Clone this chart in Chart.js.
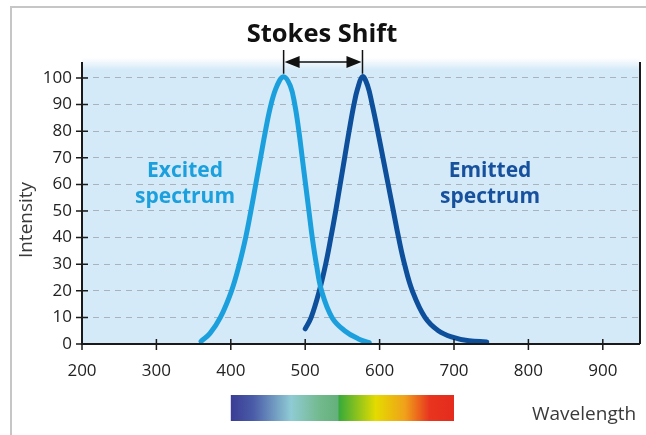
<!DOCTYPE html>
<html>
<head>
<meta charset="utf-8">
<script src="https://cdn.jsdelivr.net/npm/chart.js@4/dist/chart.umd.min.js"></script>
<style>
  body { margin: 0; background: #fff; }
  #wrap { width: 646px; height: 435px; }
</style>
</head>
<body>
<div id="wrap"><canvas id="stokesChart" width="646" height="435"></canvas></div>
<script>
// values (wavelength nm, intensity)
const excitedX = [360, 372, 386, 401, 411.5, 420, 427, 433.5, 440, 446.5, 454, 462, 471, 480, 486, 491.5, 496, 500.5, 505, 509.5, 515, 522, 536, 553, 571, 586];
const excitedY = [1, 4, 10, 20, 30, 40, 50, 60, 70, 80, 90, 97, 100.5, 97, 90, 80, 70, 60, 50, 40, 30, 20, 10, 5, 2, 0.5];
const emittedX = [500, 508, 519, 527.5, 534.5, 541, 547, 553, 559, 565.5, 570.5, 577, 584, 590, 597.5, 604.5, 611.5, 618.5, 625.5, 633.5, 644, 661, 679, 699, 720, 744];
const emittedY = [5.7, 10, 20, 30, 40, 50, 60, 70, 80, 90, 96, 100.5, 97, 90, 80, 70, 60, 50, 40, 30, 20, 10, 5, 2.5, 1.2, 0.8];
const xTicks = [200, 300, 400, 500, 600, 700, 800, 900];
const yTicks = [0, 10, 20, 30, 40, 50, 60, 70, 80, 90, 100];
const peakExcited = 471;
const peakEmitted = 577;
const spectrumStart = 400;
const spectrumEnd = 700;

const lightBlue = '#1ca0dd';
const darkBlue = '#0e4f9c';
const font = '"Open Sans", "DejaVu Sans", sans-serif';

const toPoints = (xs, ys) => xs.map((x, i) => ({ x: x, y: ys[i] }));

const decorPlugin = {
    id: 'decor',
    beforeDraw(chart) {
        const { ctx, chartArea: a } = chart;
        ctx.save();
        // outer frame, only left and top show in the picture
        ctx.strokeStyle = '#c6c6c6';
        ctx.lineWidth = 2;
        ctx.beginPath();
        ctx.moveTo(11, 435);
        ctx.lineTo(11, 7);
        ctx.lineTo(646, 7);
        ctx.stroke();
        // plot background with a soft top edge
        const g = ctx.createLinearGradient(0, a.top - 4, 0, a.top + 8);
        g.addColorStop(0, 'rgba(212,234,248,0)');
        g.addColorStop(1, 'rgba(212,234,248,1)');
        ctx.fillStyle = g;
        ctx.fillRect(a.left, a.top - 4, a.right - a.left, 12);
        ctx.fillStyle = '#d4eaf8';
        ctx.fillRect(a.left, a.top + 8, a.right - a.left, a.bottom - a.top - 8);
        ctx.restore();
    },
    afterDraw(chart) {
        const { ctx, chartArea: a, scales } = chart;
        const x = scales.x, y = scales.y;
        ctx.save();

        // axes
        ctx.strokeStyle = '#1a1a1a';
        ctx.lineWidth = 2;
        ctx.beginPath();
        ctx.moveTo(a.left, a.top);
        ctx.lineTo(a.left, a.bottom);
        ctx.lineTo(a.right, a.bottom);
        ctx.moveTo(a.right, a.top);
        ctx.lineTo(a.right, a.bottom);
        ctx.stroke();

        // tick marks crossing the axes
        ctx.lineWidth = 1.5;
        ctx.beginPath();
        yTicks.forEach(v => {
            const py = y.getPixelForValue(v);
            ctx.moveTo(a.left - 6, py);
            ctx.lineTo(a.left + 6, py);
        });
        xTicks.forEach(v => {
            const px = x.getPixelForValue(v);
            ctx.moveTo(px, a.bottom - 5);
            ctx.lineTo(px, a.bottom + 6);
        });
        ctx.stroke();

        // stokes shift marker
        const x1 = x.getPixelForValue(peakExcited);
        const x2 = x.getPixelForValue(peakEmitted);
        const yPeak = y.getPixelForValue(100.5) - 3;
        const yArrow = 62;
        ctx.strokeStyle = '#111';
        ctx.lineWidth = 1.5;
        ctx.beginPath();
        ctx.moveTo(x1, 50);
        ctx.lineTo(x1, yPeak);
        ctx.moveTo(x2, 50);
        ctx.lineTo(x2, yPeak);
        ctx.moveTo(x1 + 10, yArrow);
        ctx.lineTo(x2 - 10, yArrow);
        ctx.stroke();
        ctx.fillStyle = '#111';
        ctx.beginPath();
        ctx.moveTo(x1 + 1, yArrow);
        ctx.lineTo(x1 + 16, yArrow - 6);
        ctx.lineTo(x1 + 16, yArrow + 6);
        ctx.closePath();
        ctx.moveTo(x2 - 1, yArrow);
        ctx.lineTo(x2 - 16, yArrow - 6);
        ctx.lineTo(x2 - 16, yArrow + 6);
        ctx.closePath();
        ctx.fill();

        ctx.textAlign = 'center';
        ctx.textBaseline = 'alphabetic';
        ctx.font = 'bold 25.5px ' + font;
        ctx.fillStyle = '#111';
        ctx.fillText('Stokes Shift', 322, 42);

        // curve labels
        ctx.font = 'bold 21px ' + font;
        ctx.fillStyle = lightBlue;
        ctx.fillText('Excited', 185, 177);
        ctx.fillText('spectrum', 185, 203);
        ctx.fillStyle = '#17519e';
        ctx.fillText('Emitted', 490, 177);
        ctx.fillText('spectrum', 490, 203);

        // axis titles
        ctx.fillStyle = '#3a3a3a';
        ctx.font = '19px ' + font;
        ctx.textAlign = 'left';
        ctx.fillText('Wavelength', 532, 420);
        ctx.save();
        ctx.translate(32, 220);
        ctx.rotate(-Math.PI / 2);
        ctx.textAlign = 'center';
        ctx.fillText('Intensity', 0, 0);
        ctx.restore();

        // visible spectrum bar
        const s1 = x.getPixelForValue(spectrumStart);
        const s2 = x.getPixelForValue(spectrumEnd);
        const sg = ctx.createLinearGradient(s1, 0, s2, 0);
        sg.addColorStop(0, '#3a3d94');
        sg.addColorStop(0.1, '#4a5ba8');
        sg.addColorStop(0.27, '#8fcbd4');
        sg.addColorStop(0.4, '#72b98c');
        sg.addColorStop(0.48, '#64b07c');
        sg.addColorStop(0.485, '#38aa3a');
        sg.addColorStop(0.65, '#e4db00');
        sg.addColorStop(0.78, '#f0a11a');
        sg.addColorStop(0.89, '#e8351f');
        sg.addColorStop(1, '#e52b1d');
        ctx.fillStyle = sg;
        ctx.fillRect(s1, 395, s2 - s1, 26);

        ctx.restore();
    }
};

new Chart(document.getElementById('stokesChart').getContext('2d'), {
    type: 'line',
    data: {
        datasets: [
            {
                label: 'Excited spectrum',
                data: toPoints(excitedX, excitedY),
                borderColor: lightBlue,
                borderWidth: 5,
                borderCapStyle: 'round',
                borderJoinStyle: 'round',
                tension: 0.4,
                pointRadius: 0,
                fill: false
            },
            {
                label: 'Emitted spectrum',
                data: toPoints(emittedX, emittedY),
                borderColor: darkBlue,
                borderWidth: 5,
                borderCapStyle: 'round',
                borderJoinStyle: 'round',
                tension: 0.4,
                pointRadius: 0,
                fill: false
            }
        ]
    },
    options: {
        responsive: false,
        animation: false,
        layout: { padding: { top: 62, right: 6, left: 0, bottom: 0 } },
        plugins: {
            legend: { display: false },
            tooltip: { enabled: false }
        },
        scales: {
            x: {
                type: 'linear',
                min: 200,
                max: 950,
                afterFit: s => { s.height = 91; },
                afterBuildTicks: s => { s.ticks = xTicks.map(v => ({ value: v })); },
                ticks: {
                    padding: 17,
                    color: '#222',
                    font: { family: font, size: 17 }
                },
                grid: { display: false, drawTicks: false },
                border: { display: false }
            },
            y: {
                min: 0,
                max: 106,
                afterFit: s => { s.width = 82; },
                afterBuildTicks: s => { s.ticks = yTicks.map(v => ({ value: v })); },
                ticks: {
                    padding: 10,
                    color: '#222',
                    font: { family: font, size: 17 }
                },
                grid: {
                    drawTicks: false,
                    color: c => c.tick && c.tick.value === 0 ? 'rgba(0,0,0,0)' : '#a9b3bb',
                    lineWidth: 1
                },
                border: { display: false, dash: [6, 5] }
            }
        }
    },
    plugins: [decorPlugin]
});
</script>
</body>
</html>
